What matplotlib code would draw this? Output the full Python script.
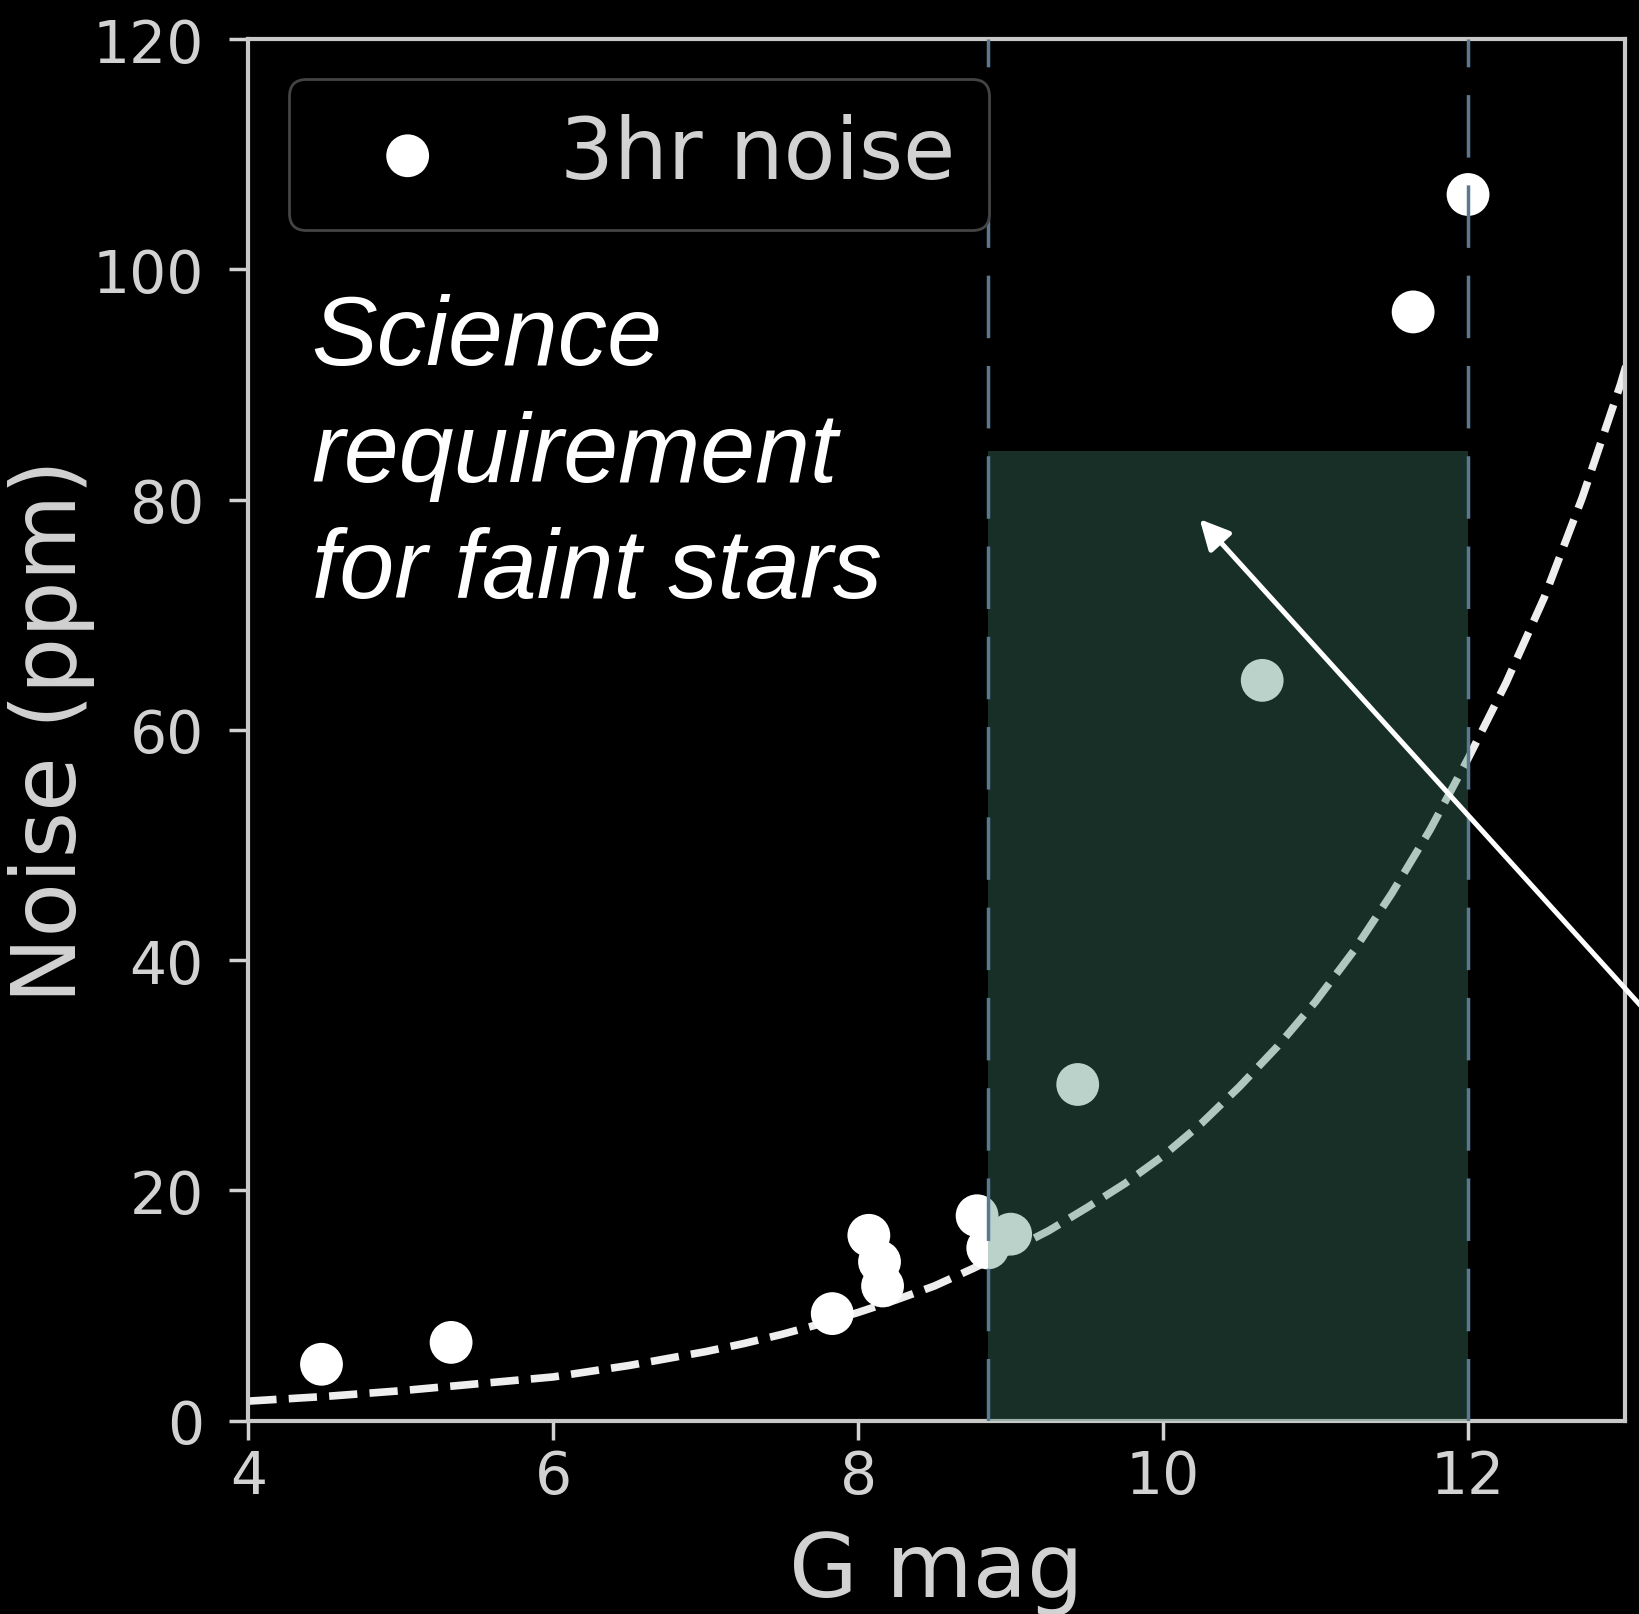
import numpy as np
import matplotlib.pyplot as plt

# Measured 3hr noise per star (G mag, ppm)
gmag = [4.48, 5.33, 7.83, 8.07, 8.14, 8.16, 8.78, 8.85, 9.00, 9.44, 10.65, 11.64, 12.00]
noise = [4.9, 6.8, 9.3, 16.1, 13.8, 11.7, 17.8, 15.0, 16.2, 29.2, 64.3, 96.3, 106.5]

# Expected noise curve
curve_mag = [4.0, 4.25, 4.5, 4.75, 5.0, 5.25, 5.5, 5.75, 6.0, 6.25, 6.5, 6.75,
             7.0, 7.25, 7.5, 7.75, 8.0, 8.25, 8.5, 8.75, 9.0, 9.25, 9.5, 9.75,
             10.0, 10.25, 10.5, 10.75, 11.0, 11.25, 11.5, 11.75, 12.0, 12.25,
             12.5, 12.75, 13.0, 13.2]
curve_noise = [1.7, 1.9, 2.1, 2.35, 2.6, 2.9, 3.2, 3.5, 3.8, 4.3, 4.8, 5.4,
               6.0, 6.7, 7.5, 8.4, 9.4, 10.5, 11.7, 13.2, 14.8, 16.5, 18.5, 20.6,
               23.0, 25.8, 29.0, 32.5, 36.4, 40.8, 45.8, 51.3, 57.5, 64.1,
               71.5, 80.2, 90.0, 99.0]

# Faint-star requirement box
req_mag = [8.85, 12.0]
req_noise = 84.2

xticks = [4, 6, 8, 10, 12]
yticks = [0, 20, 40, 60, 80, 100, 120]

fg = '#d2d2d2'

fig = plt.figure(figsize=(16.39, 16.15), dpi=100, facecolor='black')
ax = fig.add_axes([0.1515, 0.1197, 0.84, 0.8555])
ax.set_facecolor('black')

ax.plot(curve_mag, curve_noise, '--', color='#eeeeee', lw=5.5, zorder=2)
ax.scatter(gmag, noise, s=950, color='white', edgecolors='none', zorder=3, label='3hr noise')

# shaded requirement region drawn on top so points inside look tinted
ax.fill_between(req_mag, 0, req_noise, color='#40836c', alpha=0.36, lw=0, zorder=4)
for xv in req_mag:
    ax.axvline(xv, color='#5b7893', lw=2.5, linestyle=(0, (18, 8)), zorder=5)

ax.text(4.415, 71.5, 'Science\nrequirement\nfor faint stars', color='white',
        fontsize=71, style='italic', family='Liberation Sans', va='baseline',
        ha='left', linespacing=1.36, zorder=6)

ax.annotate('', xy=(10.24, 78.3), xycoords='data',
            xytext=(1.0128, 0.3635), textcoords='figure fraction',
            arrowprops=dict(arrowstyle='-|>', color='white', lw=3.6,
                            mutation_scale=45, shrinkA=0, shrinkB=0),
            annotation_clip=False, zorder=7)

ax.set_xlim(4, 13.03)
ax.set_ylim(0, 120)
ax.set_xticks(xticks)
ax.set_yticks(yticks)
ax.tick_params(axis='both', colors=fg, labelsize=42, length=14, width=2.5)
ax.tick_params(axis='y', pad=18)
ax.tick_params(axis='x', pad=6)
for sp in ax.spines.values():
    sp.set_color('#c8c8c8')
    sp.set_linewidth(3)

ax.set_xlabel('G mag', fontsize=64, color=fg, labelpad=16)
ax.set_ylabel('Noise (ppm)', fontsize=64, color=fg, labelpad=-2)

leg = ax.legend(loc='upper left', bbox_to_anchor=(0.0296, 0.971), borderaxespad=0,
                fontsize=61, facecolor='black', edgecolor='#444444', framealpha=1,
                scatterpoints=1)
leg.get_frame().set_linewidth(2)
for t in leg.get_texts():
    t.set_color(fg)

fig.savefig('out.png', dpi=100, facecolor='black')
